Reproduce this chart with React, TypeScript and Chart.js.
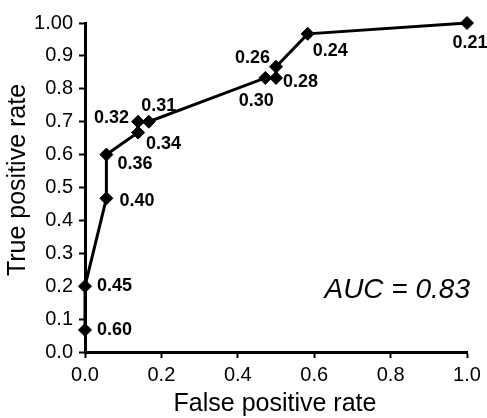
import React, { useEffect, useRef } from "react";
import { Chart, registerables } from "chart.js";

Chart.register(...registerables);

// Data
const falsePositiveRate = [0, 0, 0.056, 0.056, 0.139, 0.139, 0.167, 0.472, 0.5, 0.5, 0.583, 1.0];
const truePositiveRate = [0.067, 0.2, 0.467, 0.6, 0.667, 0.7, 0.7, 0.833, 0.833, 0.867, 0.967, 1.0];
const thresholdLabels = ["0.60", "0.45", "0.40", "0.36", "0.34", "0.32", "0.31", "0.30", "0.28", "0.26", "0.24", "0.21"];
const xTickLabels = ["0.0", "0.2", "0.4", "0.6", "0.8", "1.0"];
const yTickLabels = ["0.0", "0.1", "0.2", "0.3", "0.4", "0.5", "0.6", "0.7", "0.8", "0.9", "1.00"];
const aucText = "AUC = 0.83";
const xTitle = "False positive rate";
const yTitle = "True positive rate";

const FONT = "'Liberation Sans', Arial, sans-serif";

// label placement relative to each point: [dx, dy, align]
const labelPlacement: [number, number, CanvasTextAlign][] = [
  [12, 0, "left"],
  [12, 0, "left"],
  [13, 3, "left"],
  [11, 9, "left"],
  [8, 11, "left"],
  [-9, -4, "right"],
  [10, -16, "center"],
  [-9, 23, "center"],
  [7, 4, "left"],
  [-6, -9, "right"],
  [5, 17, "left"],
  [3, 20, "center"],
];

const annotationsPlugin = {
  id: "rocAnnotations",
  afterDatasetsDraw(chart: any) {
    const ctx = chart.ctx as CanvasRenderingContext2D;
    const xs = chart.scales.x;
    const ys = chart.scales.y;
    const area = chart.chartArea;
    ctx.save();
    ctx.fillStyle = "#000";
    ctx.font = `bold 18px ${FONT}`;
    ctx.textBaseline = "middle";
    for (let i = 0; i < thresholdLabels.length; i++) {
      const px = xs.getPixelForValue(falsePositiveRate[i]);
      const py = ys.getPixelForValue(truePositiveRate[i]);
      const [dx, dy, align] = labelPlacement[i];
      ctx.textAlign = align;
      ctx.fillText(thresholdLabels[i], px + dx, py + dy);
    }
    // AUC
    ctx.font = `italic 28px ${FONT}`;
    ctx.textAlign = "right";
    ctx.fillText(aucText, 470, 290);
    // axis titles
    ctx.font = `25px ${FONT}`;
    ctx.textBaseline = "alphabetic";
    ctx.textAlign = "center";
    ctx.fillText(xTitle, (area.left + area.right) / 2 - 1, 411);
    ctx.translate(25, 180);
    ctx.rotate(-Math.PI / 2);
    ctx.fillText(yTitle, 0, 0);
    ctx.restore();
  },
};

export default function App() {
  const ref = useRef<HTMLCanvasElement | null>(null);
  useEffect(() => {
    if (!ref.current) return;
    const points = falsePositiveRate.map((x, i) => ({ x, y: truePositiveRate[i] }));
    const chart = new Chart(ref.current, {
      type: "scatter",
      data: {
        datasets: [
          {
            data: points,
            showLine: true,
            borderColor: "#000",
            borderWidth: 3,
            backgroundColor: "#000",
            pointBackgroundColor: "#000",
            pointBorderColor: "#000",
            pointBorderWidth: 1,
            pointStyle: "rectRot",
            pointRadius: 6.5,
            pointHoverRadius: 6.5,
            tension: 0,
            clip: false as any,
          },
        ],
      },
      options: {
        animation: false,
        responsive: false,
        maintainAspectRatio: false,
        layout: { padding: { left: 0, top: 23, right: 20, bottom: 0 } },
        plugins: { legend: { display: false }, tooltip: { enabled: false }, title: { display: false } },
        scales: {
          x: {
            type: "linear",
            min: 0,
            max: 1,
            afterFit: (s: any) => {
              s.height = 66;
            },
            afterBuildTicks: (s: any) => {
              s.ticks = xTickLabels.map((_, i) => ({ value: i * 0.2 }));
            },
            ticks: {
              autoSkip: false,
              color: "#000",
              font: { family: FONT, size: 20 },
              padding: 5,
              maxRotation: 0,
              callback: (_v: any, i: number) => xTickLabels[i],
            },
            grid: { drawOnChartArea: false, drawTicks: true, tickLength: 6, tickWidth: 2, tickColor: "#000" },
            border: { display: true, color: "#000", width: 3 },
          },
          y: {
            type: "linear",
            min: 0,
            max: 1,
            afterFit: (s: any) => {
              s.width = 85;
            },
            afterBuildTicks: (s: any) => {
              s.ticks = yTickLabels.map((_, i) => ({ value: i / 10 }));
            },
            ticks: {
              autoSkip: false,
              color: "#000",
              font: { family: FONT, size: 20 },
              padding: 6,
              callback: (_v: any, i: number) => yTickLabels[i],
            },
            grid: { drawOnChartArea: false, drawTicks: true, tickLength: 6, tickWidth: 2, tickColor: "#000" },
            border: { display: true, color: "#000", width: 3 },
          },
        },
      },
      plugins: [annotationsPlugin],
    });
    return () => chart.destroy();
  }, []);
  return (
    <div style={{ position: "fixed", left: 0, top: 0, width: 487, height: 418, background: "#fff" }}>
      <canvas ref={ref} width={487} height={418} style={{ width: 487, height: 418, display: "block" }} />
    </div>
  );
}
